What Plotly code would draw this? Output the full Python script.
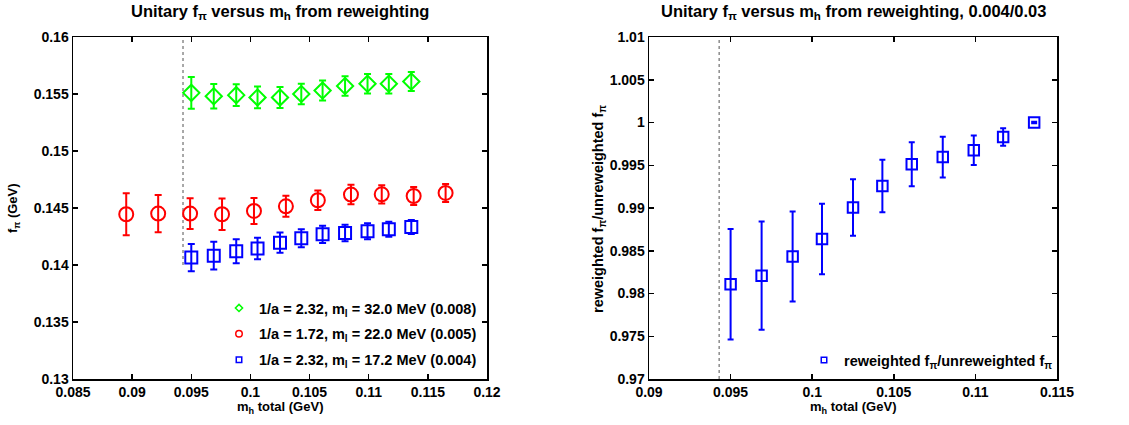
import plotly.graph_objects as go

# ---------------- data ----------------
# 1/a = 2.32, m_l = 32.0 MeV (0.008)
mh_008 = [0.0950, 0.0969, 0.0988, 0.1006, 0.1025, 0.1043, 0.1061, 0.1080, 0.1099, 0.1117, 0.1136]
fpi_008 = [0.1551, 0.1548, 0.1549, 0.1547, 0.1547, 0.1550, 0.1553, 0.1557, 0.1559, 0.1559, 0.1561]
err_008 = [0.00139, 0.00108, 0.00096, 0.00096, 0.00092, 0.00090, 0.00088, 0.00085, 0.00085, 0.00085, 0.00083]

# 1/a = 1.72, m_l = 22.0 MeV (0.005)
mh_005 = [0.0895, 0.0922, 0.0949, 0.0976, 0.1003, 0.1030, 0.1057, 0.1085, 0.1111, 0.1138, 0.1165]
fpi_005 = [0.14445, 0.14451, 0.14451, 0.14445, 0.14474, 0.14515, 0.14568, 0.14618, 0.14620, 0.14605, 0.14632]
err_005 = [0.00184, 0.00164, 0.00135, 0.00139, 0.00114, 0.00092, 0.00086, 0.00086, 0.00080, 0.00079, 0.00079]

# 1/a = 2.32, m_l = 17.2 MeV (0.004)
mh_004 = [0.0950, 0.0969, 0.0988, 0.1006, 0.1025, 0.1043, 0.1061, 0.1080, 0.1099, 0.1117, 0.1136]
fpi_004 = [0.14065, 0.14082, 0.14120, 0.14144, 0.14196, 0.14234, 0.14269, 0.14281, 0.14296, 0.14313, 0.14333]
err_004 = [0.00120, 0.00121, 0.00105, 0.00094, 0.00089, 0.00079, 0.00076, 0.00072, 0.00070, 0.00066, 0.00061]

# reweighted / unreweighted ratio (0.004/0.03)
mh_ratio = [0.0950, 0.0969, 0.0988, 0.1006, 0.1025, 0.1043, 0.1061, 0.1080, 0.1099, 0.1117, 0.1136]
ratio = [0.98108, 0.98209, 0.98432, 0.98637, 0.99005, 0.99257, 0.99511, 0.99596, 0.99675, 0.99830, 1.0000]
ratio_err = [0.00647, 0.00634, 0.00526, 0.00413, 0.00331, 0.00308, 0.00257, 0.00238, 0.00172, 0.00103, 0.0001]

# unitary point (dotted vertical reference line)
mh_unitary = 0.0943
left_line_y = [0.14, 0.16]
right_line_y = [0.97, 1.01]

left_xticks = [0.085, 0.09, 0.095, 0.1, 0.105, 0.11, 0.115, 0.12]
left_xlabels = ["0.085", "0.09", "0.095", "0.1", "0.105", "0.11", "0.115", "0.12"]
left_yticks = [0.13, 0.135, 0.14, 0.145, 0.15, 0.155, 0.16]
left_ylabels = ["0.13", "0.135", "0.14", "0.145", "0.15", "0.155", "0.16"]
right_xticks = [0.09, 0.095, 0.1, 0.105, 0.11, 0.115]
right_xlabels = ["0.09", "0.095", "0.1", "0.105", "0.11", "0.115"]
right_yticks = [0.97, 0.975, 0.98, 0.985, 0.99, 0.995, 1.0, 1.005, 1.01]
right_ylabels = ["0.97", "0.975", "0.98", "0.985", "0.99", "0.995", "1", "1.005", "1.01"]

legend_names = [
    "1/a = 2.32, m<sub>l</sub> = 32.0 MeV (0.008)",
    "1/a = 1.72, m<sub>l</sub> = 22.0 MeV (0.005)",
    "1/a = 2.32, m<sub>l</sub> = 17.2 MeV (0.004)",
]
ratio_name = "reweighted f<sub>π</sub>/unreweighted f<sub>π</sub>"

# ---------------- style ----------------
W, H = 1129, 425
FONT = "Liberation Sans"
GREEN, RED, BLUE = "#00ff00", "#ff0000", "#0000ff"


def fx(px):
    return px / W


def fy(py):
    return 1 - py / H


fig = go.Figure()

# dotted reference lines
fig.add_trace(go.Scatter(x=[mh_unitary, mh_unitary], y=left_line_y, mode="lines",
                         line=dict(color="#8c8c8c", width=1.5, dash="dot"),
                         showlegend=False, hoverinfo="skip", xaxis="x", yaxis="y"))
fig.add_trace(go.Scatter(x=[mh_unitary, mh_unitary], y=right_line_y, mode="lines",
                         line=dict(color="#8c8c8c", width=1.5, dash="dot"),
                         showlegend=False, hoverinfo="skip", xaxis="x2", yaxis="y2"))


def series(x, y, e, color, symbol, size, ax, ay, capw):
    return go.Scatter(
        x=x, y=y, mode="markers",
        error_y=dict(type="data", array=e, visible=True, color=color, thickness=2, width=capw),
        marker=dict(symbol=symbol, size=size, color=color, line=dict(color=color, width=2)),
        showlegend=False, xaxis=ax, yaxis=ay)


fig.add_trace(series(mh_008, fpi_008, err_008, GREEN, "diamond-open", 12.5, "x", "y", 3.5))
fig.add_trace(series(mh_005, fpi_005, err_005, RED, "circle-open", 14, "x", "y", 3.5))
fig.add_trace(series(mh_004, fpi_004, err_004, BLUE, "square-open", 12, "x", "y", 3.5))
fig.add_trace(series(mh_ratio, ratio, ratio_err, BLUE, "square-open", 10.5, "x2", "y2", 3))

# legend-only entries (small markers as in the reference)
leg_specs = [(GREEN, "diamond-open", 5.5), (RED, "circle-open", 6.5), (BLUE, "square-open", 5.5)]
for i, (name, (c, s, sz)) in enumerate(zip(legend_names, leg_specs)):
    fig.add_trace(go.Scatter(x=[None], y=[None], mode="markers", name=name,
                             marker=dict(symbol=s, size=sz, color=c, line=dict(color=c, width=1.5)),
                             legendgroup="g%d" % i, legend="legend", xaxis="x", yaxis="y"))
fig.add_trace(go.Scatter(x=[None], y=[None], mode="markers", name=ratio_name,
                         marker=dict(symbol="square-open", size=5.5, color=BLUE, line=dict(color=BLUE, width=1.5)),
                         legend="legend2", xaxis="x2", yaxis="y2"))

tickfont = dict(family=FONT, size=14, color="black", weight="bold")
axis_common = dict(showgrid=False, zeroline=False, showline=True, linecolor="black", linewidth=1.5,
                   mirror="ticks", ticks="inside", ticklen=5, tickwidth=1.5, tickcolor="black",
                   tickfont=tickfont, automargin=False, tickmode="array")

ydom = [fy(379), fy(37)]
legfont = dict(family=FONT, size=14.5, color="black", weight="bold")
fig.update_layout(
    width=W, height=H, autosize=False,
    margin=dict(l=0, r=0, t=0, b=0),
    paper_bgcolor="white", plot_bgcolor="white",
    xaxis=dict(domain=[fx(73), fx(487)], range=[0.085, 0.12], tickvals=left_xticks,
               ticktext=left_xlabels, anchor="y", **axis_common),
    yaxis=dict(domain=ydom, range=[0.13, 0.16], tickvals=left_yticks,
               ticktext=left_ylabels, anchor="x", **axis_common),
    xaxis2=dict(domain=[fx(649), fx(1057)], range=[0.09, 0.115], tickvals=right_xticks,
                ticktext=right_xlabels, anchor="y2", **axis_common),
    yaxis2=dict(domain=ydom, range=[0.97, 1.01], tickvals=right_yticks,
                ticktext=right_ylabels, anchor="x2", **axis_common),
    legend=dict(x=fx(219), y=fy(292), xanchor="left", yanchor="top", bgcolor="rgba(0,0,0,0)",
                font=legfont, traceorder="grouped", tracegroupgap=4, borderwidth=0),
    legend2=dict(x=fx(804), y=fy(344), xanchor="left", yanchor="top", bgcolor="rgba(0,0,0,0)",
                 font=legfont, borderwidth=0),
)

lab = dict(family=FONT, size=13, color="black", weight="bold")
laby = dict(family=FONT, size=14.5, color="black", weight="bold")
ttl = dict(family=FONT, size=16.5, color="black", weight="bold")
annots = [
    dict(text="Unitary f<sub>π</sub> versus m<sub>h</sub> from reweighting", x=fx(280), y=fy(12), font=ttl),
    dict(text="Unitary f<sub>π</sub> versus m<sub>h</sub> from reweighting, 0.004/0.03", x=fx(853), y=fy(12), font=ttl),
    dict(text="m<sub>h</sub> total (GeV)", x=fx(280), y=fy(407), font=lab),
    dict(text="m<sub>h</sub> total (GeV)", x=fx(853), y=fy(407), font=lab),
    dict(text="f<sub>π</sub> (GeV)", x=fx(13), y=fy(208), font=lab, textangle=-90),
    dict(text="reweighted f<sub>π</sub>/unreweighted f<sub>π</sub>", x=fx(599), y=fy(209), font=laby, textangle=-90),
]
for a in annots:
    fig.add_annotation(xref="paper", yref="paper", showarrow=False, xanchor="center", yanchor="middle", **a)

# remove the default 8px page margin so the figure fills the window exactly
fig.write_html("out.html", config={"displayModeBar": False, "staticPlot": True},
               post_script="document.body.style.margin='0';document.body.style.overflow='hidden';")
